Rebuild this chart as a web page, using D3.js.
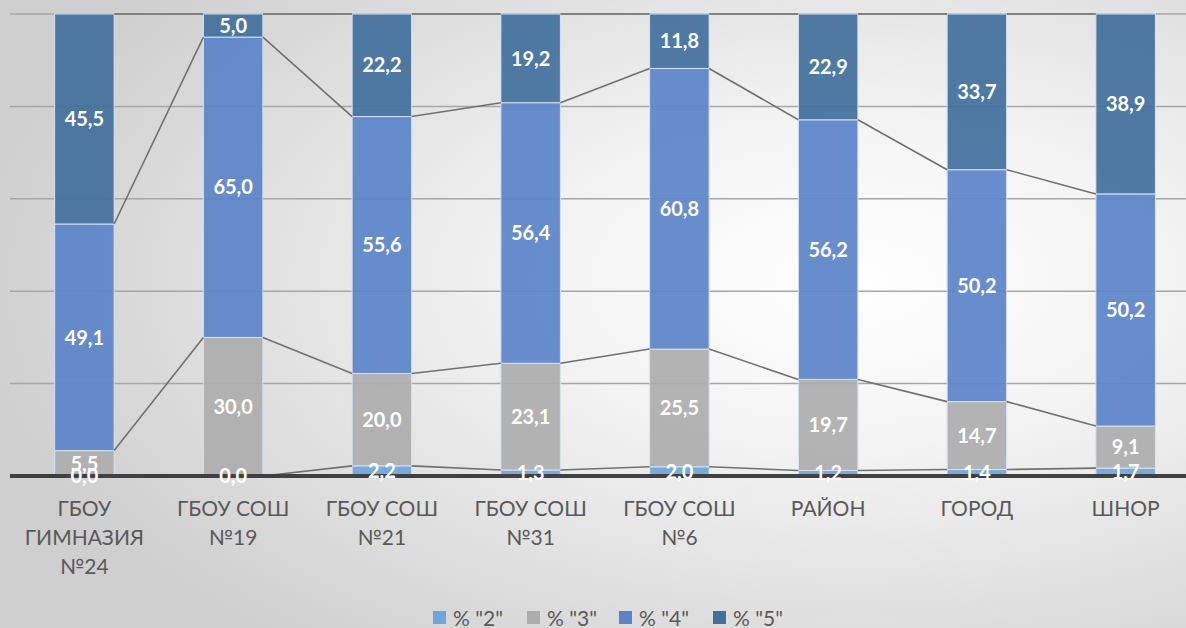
<!DOCTYPE html>
<html><head><meta charset="utf-8">
<script src="https://cdn.jsdelivr.net/npm/d3@7"></script>
<style>body{margin:0;overflow:hidden}svg{display:block}</style>
</head><body>
<svg id="c" width="1186" height="628"></svg>
<script>
const categories = [["ГБОУ","ГИМНАЗИЯ","№24"],["ГБОУ СОШ","№19"],["ГБОУ СОШ","№21"],["ГБОУ СОШ","№31"],["ГБОУ СОШ","№6"],["РАЙОН"],["ГОРОД"],["ШНОР"]];
const seriesNames = ['% "2"','% "3"','% "4"','% "5"'];
const s2 = [0.0, 0.0, 2.2, 1.3, 2.0, 1.2, 1.4, 1.7];
const s3 = [5.5, 30.0, 20.0, 23.1, 25.5, 19.7, 14.7, 9.1];
const s4 = [49.1, 65.0, 55.6, 56.4, 60.8, 56.2, 50.2, 50.2];
const s5 = [45.5, 5.0, 22.2, 19.2, 11.8, 22.9, 33.7, 38.9];
const colors = ["#6ea6da","#adadad","#5b84c8","#41709c"];

const svg = d3.select("#c");
const W = 1186, H = 628;
const defs = svg.append("defs");
const rg = defs.append("radialGradient").attr("id","bg").attr("cx","0.72").attr("cy","0.45").attr("r","0.75");
rg.append("stop").attr("offset","0").attr("stop-color","#ffffff");
rg.append("stop").attr("offset","0.35").attr("stop-color","#f3f3f3");
rg.append("stop").attr("offset","1").attr("stop-color","#cfcfcf");
svg.append("rect").attr("width",W).attr("height",H).attr("fill","url(#bg)");

const keys = [0,1,2,3];
const rows = categories.map((c,i)=>({i, 0:s2[i],1:s3[i],2:s4[i],3:s5[i]}));
const stack = d3.stack().keys(keys).offset(d3.stackOffsetExpand)(rows);

const x = d3.scaleBand().domain(d3.range(categories.length)).range([10, 1200]).paddingInner(0.6).paddingOuter(0.3);
const y = d3.scaleLinear().domain([0,1]).range([476, 14]);

// gridlines
const g = svg.append("g");
g.selectAll("line.grid").data([0.2,0.4,0.6,0.8,1.0]).join("line")
  .attr("x1",10).attr("x2",W).attr("y1",d=>y(d)).attr("y2",d=>y(d))
  .attr("stroke","#a6a6a6").attr("stroke-width",1.5);

// bars
stack.forEach((layer,k)=>{
  svg.append("g").selectAll("rect").data(layer).join("rect")
    .attr("x",(d,i)=>x(i)).attr("width",x.bandwidth())
    .attr("y",d=>y(d[1])).attr("height",d=>Math.max(0,y(d[0])-y(d[1])))
    .attr("fill",colors[k]).attr("fill-opacity",0.93)
    .attr("stroke","#d6e2f2").attr("stroke-width",1);
});

// series lines
const sl = svg.append("g");
stack.forEach((layer,k)=>{
  for(let i=0;i<layer.length-1;i++){
    sl.append("line")
      .attr("x1",x(i)+x.bandwidth()).attr("y1",y(layer[i][1]))
      .attr("x2",x(i+1)).attr("y2",y(layer[i+1][1]))
      .attr("stroke","#707070").attr("stroke-width",1.6);
  }
});

// axis line
svg.append("line").attr("x1",10).attr("x2",W).attr("y1",y(0)).attr("y2",y(0))
  .attr("stroke","#404040").attr("stroke-width",4);

// labels
const vals=[s2,s3,s4,s5];
stack.forEach((layer,k)=>{
  svg.append("g").selectAll("text").data(layer).join("text")
    .attr("x",(d,i)=>x(i)+x.bandwidth()/2)
    .attr("y",d=>(y(d[0])+y(d[1]))/2)
    .attr("dy","0.36em").attr("text-anchor","middle")
    .attr("fill","#ffffff").attr("font-family","Lato, 'Open Sans', sans-serif")
    .attr("font-weight","bold").attr("font-size",20)
    .text((d,i)=>vals[k][i].toFixed(1).replace(".",","));
});

// category labels
const cl = svg.append("g");
categories.forEach((lines,i)=>{
  const t = cl.append("text").attr("text-anchor","middle")
    .attr("font-family","Lato, 'Open Sans', sans-serif").attr("font-size",21).attr("fill","#595959");
  lines.forEach((ln,j)=>{
    t.append("tspan").attr("x",x(i)+x.bandwidth()/2).attr("y",516+j*29).text(ln);
  });
});

// legend
const lg = svg.append("g");
const lx = [433,527,619,713];
seriesNames.forEach((n,k)=>{
  lg.append("rect").attr("x",lx[k]).attr("y",611).attr("width",13).attr("height",13).attr("fill",colors[k]);
  lg.append("text").attr("x",lx[k]+20).attr("y",626).attr("font-family","Lato, 'Open Sans', sans-serif")
    .attr("font-size",21).attr("fill","#595959").text(n);
});
</script>
</body></html>
